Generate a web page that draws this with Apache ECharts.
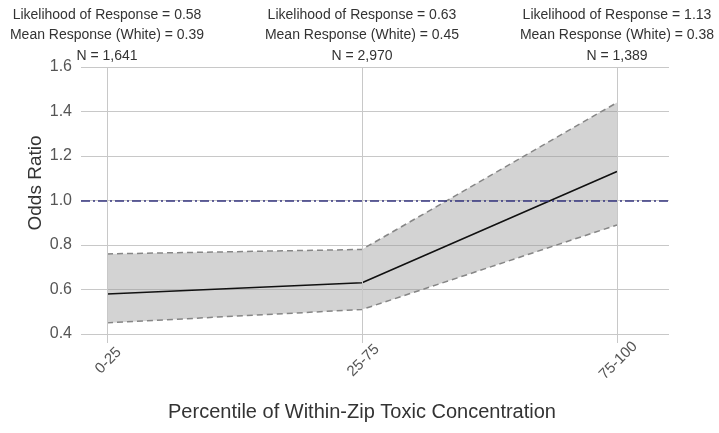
<!DOCTYPE html>
<html>
<head>
<meta charset="utf-8">
<script src="https://cdn.jsdelivr.net/npm/echarts@6/dist/echarts.min.js"></script>
<style>html,body{margin:0;padding:0;background:#fff}#c{width:719px;height:433px}</style>
</head>
<body>
<div id="c"></div>
<script>
var categories = ['0-25', '25-75', '75-100'];
var oddsRatio = [0.58, 0.63, 1.13];
var lowerCI = [0.45, 0.51, 0.89];
var upperCI = [0.76, 0.78, 1.44];
var likelihood = ['0.58', '0.63', '1.13'];
var meanResponse = ['0.39', '0.45', '0.38'];
var nCounts = ['1,641', '2,970', '1,389'];
var yTicks = [0.4, 0.6, 0.8, 1.0, 1.2, 1.4, 1.6];
var refValue = 1.0;

var idx = categories.map(function (c, i) { return i; });
var FONT = '"Liberation Sans", Arial, sans-serif';
var xMin = -0.102, xMax = 2.204;

var chart = echarts.init(document.getElementById('c'));
chart.setOption({
  animation: false,
  backgroundColor: '#fff',
  grid: { left: 81, right: 50, top: 67, bottom: 99, containLabel: false },
  xAxis: [{
    type: 'value', min: xMin, max: xMax,
    axisLine: { show: false },
    splitLine: { show: false },
    axisTick: { show: true, customValues: idx, length: 9, lineStyle: { color: '#c8c8c8' } },
    axisLabel: {
      customValues: idx, rotate: 45, margin: 28, align: 'center', verticalAlign: 'middle',
      padding: [0, 0, 0, 4],
      fontFamily: FONT, fontSize: 15, color: '#555',
      formatter: function (v) { return categories[Math.round(v)]; }
    },
    name: 'Percentile of Within-Zip Toxic Concentration',
    nameLocation: 'middle', nameGap: 68,
    nameTextStyle: { fontFamily: FONT, fontSize: 20, color: '#333', padding: [0, 26, 0, 0] }
  }, {
    type: 'value', min: xMin, max: xMax, position: 'top',
    axisLine: { show: false }, splitLine: { show: false }, axisTick: { show: false },
    axisLabel: {
      customValues: idx, margin: 1,
      fontFamily: FONT, fontSize: 14, color: '#333', lineHeight: 20.5,
      formatter: function (v) {
        var i = Math.round(v);
        return 'Likelihood of Response = ' + likelihood[i] + '\nMean Response (White) = ' + meanResponse[i] + '\nN = ' + nCounts[i];
      }
    }
  }],
  yAxis: {
    type: 'value', min: yTicks[0], max: yTicks[yTicks.length - 1], interval: 0.2,
    axisLine: { show: false }, axisTick: { show: false },
    splitLine: { show: true, lineStyle: { color: '#c8c8c8', width: 1 } },
    axisLabel: { margin: 9, fontFamily: FONT, fontSize: 16, color: '#555',
      formatter: function (v) { return v.toFixed(1); } },
    name: 'Odds Ratio', nameLocation: 'middle', nameGap: 36, nameMoveOverlap: false,
    nameTextStyle: { fontFamily: FONT, fontSize: 19, color: '#333', padding: [0, 0, 0, 35] }
  },
  series: [{
    type: 'line', z: 1, data: [], silent: true,
    markLine: {
      silent: true, symbol: 'none', label: { show: false },
      lineStyle: { color: '#c8c8c8', type: 'solid', width: 1 },
      data: idx.map(function (i) { return { xAxis: i }; })
    }
  }, {
    type: 'custom', z: 2, silent: true,
    data: idx.map(function (i) { return [i, lowerCI[i], upperCI[i]]; }),
    renderItem: function (params, api) {
      var i = api.value(0);
      if (i >= categories.length - 1) return;
      var pts = [
        api.coord([i, lowerCI[i]]), api.coord([i + 1, lowerCI[i + 1]]),
        api.coord([i + 1, upperCI[i + 1]]), api.coord([i, upperCI[i]])
      ];
      return { type: 'polygon', shape: { points: pts }, style: { fill: 'rgba(150,150,150,0.42)', stroke: null } };
    }
  }, {
    type: 'line', symbol: 'none', z: 3,
    data: idx.map(function (i) { return [i, lowerCI[i]]; }),
    lineStyle: { color: '#868686', width: 1.5, type: [6, 4] }
  }, {
    type: 'line', symbol: 'none', z: 3,
    data: idx.map(function (i) { return [i, upperCI[i]]; }),
    lineStyle: { color: '#868686', width: 1.5, type: [6, 4] }
  }, {
    type: 'line', symbol: 'none', z: 4,
    data: idx.map(function (i) { return [i, oddsRatio[i]]; }),
    lineStyle: { color: '#111', width: 1.6 },
    markLine: {
      silent: true, symbol: 'none', label: { show: false },
      lineStyle: { color: '#34347f', width: 1.5, type: [9, 3, 2, 3] },
      data: [{ yAxis: refValue }]
    }
  }]
});
</script>
</body>
</html>
